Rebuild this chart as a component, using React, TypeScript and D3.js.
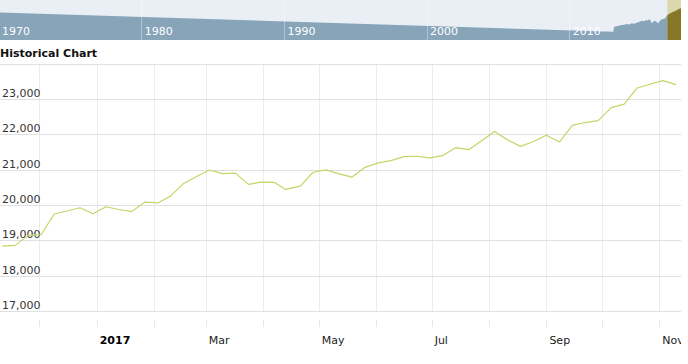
import React from 'react';
import * as d3 from 'd3';

// Weekly closes shown in the main chart
const weekDates = [
  '2016-11-11', '2016-11-18', '2016-11-25', '2016-12-02', '2016-12-09', '2016-12-16', '2016-12-23', '2016-12-30',
  '2017-01-06', '2017-01-13', '2017-01-20', '2017-01-27', '2017-02-03', '2017-02-10', '2017-02-17', '2017-02-24',
  '2017-03-03', '2017-03-10', '2017-03-17', '2017-03-24', '2017-03-31', '2017-04-07', '2017-04-13', '2017-04-21',
  '2017-04-28', '2017-05-05', '2017-05-12', '2017-05-19', '2017-05-26', '2017-06-02', '2017-06-09', '2017-06-16',
  '2017-06-23', '2017-06-30', '2017-07-07', '2017-07-14', '2017-07-21', '2017-07-28', '2017-08-04', '2017-08-11',
  '2017-08-18', '2017-08-25', '2017-09-01', '2017-09-08', '2017-09-15', '2017-09-22', '2017-09-29', '2017-10-06',
  '2017-10-13', '2017-10-20', '2017-10-27', '2017-11-03', '2017-11-10',
];
const weekCloses = [
  18847.66, 18867.93, 19152.14, 19170.42, 19756.85, 19843.41, 19933.81, 19762.6,
  19963.8, 19885.73, 19827.25, 20093.78, 20071.46, 20269.37, 20624.05, 20821.76,
  21005.71, 20902.98, 20914.62, 20596.72, 20663.22, 20656.1, 20453.25, 20547.76,
  20940.51, 21006.94, 20896.61, 20804.84, 21080.28, 21206.29, 21271.97, 21384.28,
  21394.76, 21349.63, 21414.34, 21637.74, 21580.07, 21830.31, 22092.81, 21858.32,
  21674.51, 21813.67, 21987.56, 21797.79, 22268.34, 22349.59, 22405.09, 22773.67,
  22871.72, 23328.63, 23434.19, 23539.19, 23422.21,
];

// Y axis
const yGridValues = [17000, 18000, 19000, 20000, 21000, 22000, 23000, 24000];
const yLabelValues = [17000, 18000, 19000, 20000, 21000, 22000, 23000];

// X axis (monthly grid, labels every second month)
const monthTicks = [
  '2016-12-01', '2017-01-01', '2017-02-01', '2017-03-01', '2017-04-01', '2017-05-01',
  '2017-06-01', '2017-07-01', '2017-08-01', '2017-09-01', '2017-10-01', '2017-11-01',
];
const monthLabels = ['', '2017', '', 'Mar', '', 'May', '', 'Jul', '', 'Sep', '', 'Nov'];
const monthLabelBold = [false, true, false, false, false, false, false, false, false, false, false, false];

// Navigator (overview) series
const navYears = [
  1970, 2013.08, 2013.15, 2013.4, 2013.67, 2013.85, 2014.02, 2014.2, 2014.37, 2014.55, 2014.72, 2014.9,
  2015.07, 2015.25, 2015.38, 2015.5, 2015.61, 2015.7, 2015.78, 2015.9, 2016.01, 2016.12, 2016.24,
  2016.36, 2016.48, 2016.6, 2016.71, 2016.87, 2017.08, 2017.29, 2017.46, 2017.64, 2017.81, 2017.86,
];
const navValues = [
  21700, 13530, 15650, 15900, 16375, 16500, 16800, 16600, 17100, 16900, 17350, 17700,
  18200, 18000, 18500, 18300, 18925, 18100, 17100, 17900, 18200, 17600, 17100,
  18300, 18800, 18900, 19225, 20625, 21400, 22025, 22400, 23050, 23475, 23400,
];
const decadeTicks = [1970, 1980, 1990, 2000, 2010];
const navWindow = [2016.87, 2017.86];

const W = 688;
const H = 364;
const plotLeft = 0;
const plotRight = 681;
const plotTop = 64.3;
const plotBottom = 311.3;
const navBottom = 40;
const font = '"DejaVu Sans", Verdana, sans-serif';

const parse = (s: string) => {
  const [y, m, d] = s.split('-').map(Number);
  return new Date(Date.UTC(y, m - 1, d));
};

export default function App() {
  const x = d3
    .scaleUtc()
    .domain([parse('2016-12-01'), parse('2017-11-01')])
    .range([39.3, 659.3]);
  const y = d3.scaleLinear().domain([17000, 24000]).range([plotBottom, plotTop]);

  const navX = d3.scaleLinear().domain([1970, 2010]).range([-1.5, 569.3]);
  const navY = d3.scaleLinear().domain([10000, 27000]).range([navBottom, 0]);

  const points = weekDates.map((d, i) => ({ d: parse(d), v: weekCloses[i] }));
  const line = d3
    .line<{ d: Date; v: number }>()
    .x((p) => x(p.d))
    .y((p) => y(p.v));

  const navPts = navYears.map((t, i) => ({ t, v: navValues[i] }));
  const area = d3
    .area<{ t: number; v: number }>()
    .x((p) => navX(p.t))
    .y0(navBottom)
    .y1((p) => navY(p.v));

  const w0 = navX(navWindow[0]);
  const w1 = navX(navWindow[1]);
  const crisp = (v: number) => Math.round(v) + 0.5;

  return (
    <svg
      width={W}
      height={H}
      style={{ position: 'absolute', left: 0, top: 0, background: '#fff' }}
      fontFamily={font}
    >
      <defs>
        <clipPath id="plotClip">
          <rect x={plotLeft} y={plotTop - 2} width={plotRight - plotLeft} height={plotBottom - plotTop + 4} />
        </clipPath>
        <clipPath id="navClip">
          <rect x={0} y={0} width={plotRight} height={navBottom} />
        </clipPath>
        <clipPath id="winClip">
          <rect x={w0} y={0} width={w1 - w0} height={navBottom} />
        </clipPath>
        <clipPath id="axisClip">
          <rect x={0} y={300} width={plotRight} height={64} />
        </clipPath>
      </defs>

      {/* Navigator */}
      <g clipPath="url(#navClip)">
        <rect x={0} y={0} width={plotRight} height={navBottom} fill="#e9eff5" />
        <path d={area(navPts) || ''} fill="#87a4b9" />
        <rect x={w0} y={0} width={w1 - w0} height={navBottom} fill="#dbd8ae" />
        <g clipPath="url(#winClip)">
          <path d={area(navPts) || ''} fill="#877829" />
        </g>
        {decadeTicks.map((t) => (
          <line
            key={t}
            x1={crisp(navX(t))}
            x2={crisp(navX(t))}
            y1={0}
            y2={navBottom}
            stroke="#ffffff"
            strokeOpacity={0.35}
          />
        ))}
        {decadeTicks.map((t) => (
          <text key={'l' + t} x={navX(t) + 3.5} y={35} fontSize={11} fill="#ffffff">
            {t}
          </text>
        ))}
      </g>

      {/* Title */}
      <text x={0} y={57} fontSize={11} fontWeight="bold" fill="#111">
        Historical Chart
      </text>

      {/* Vertical grid */}
      {monthTicks.map((m) => (
        <line
          key={'v' + m}
          x1={crisp(x(parse(m)))}
          x2={crisp(x(parse(m)))}
          y1={plotTop}
          y2={plotBottom}
          stroke="#ececec"
        />
      ))}
      {/* Horizontal grid */}
      {yGridValues.map((v) => (
        <line
          key={'h' + v}
          x1={plotLeft}
          x2={plotRight}
          y1={crisp(y(v) - 0.5)}
          y2={crisp(y(v) - 0.5)}
          stroke="#e0e0e0"
        />
      ))}

      {/* Y labels */}
      {yLabelValues.map((v) => (
        <text key={'yl' + v} x={2} y={y(v) - 2.5} fontSize={11} fill="#333">
          {d3.format(',')(v)}
        </text>
      ))}

      {/* Series */}
      <g clipPath="url(#plotClip)">
        <path d={line(points) || ''} fill="none" stroke="#c0d766" strokeWidth={1.2} strokeLinejoin="round" />
      </g>

      {/* X ticks and labels */}
      <g clipPath="url(#axisClip)">
        {monthTicks.map((m) => (
          <line
            key={'t' + m}
            x1={crisp(x(parse(m)))}
            x2={crisp(x(parse(m)))}
            y1={320}
            y2={327}
            stroke="#e8e8e8"
          />
        ))}
        {monthTicks.map((m, i) =>
          monthLabels[i] ? (
            <text
              key={'xl' + m}
              x={x(parse(m)) + 3}
              y={343.5}
              fontSize={11}
              fontWeight={monthLabelBold[i] ? 'bold' : 'normal'}
              fill={monthLabelBold[i] ? '#000' : '#222'}
            >
              {monthLabels[i]}
            </text>
          ) : null
        )}
      </g>
    </svg>
  );
}
